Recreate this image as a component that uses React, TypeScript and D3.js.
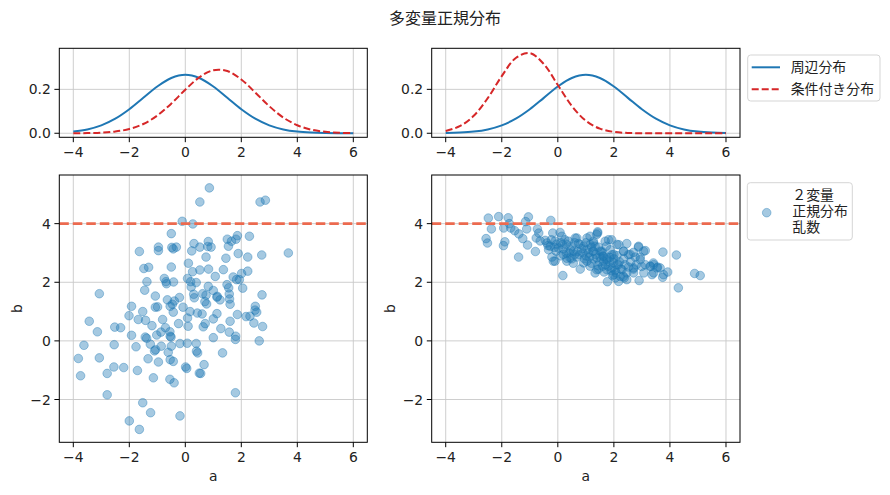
import * as d3 from "d3";

// ---- data ----
const curveX = [-4, -3.5, -3, -2.5, -2, -1.5, -1, -0.5, 0, 0.5, 1, 1.5, 2, 2.5, 3, 3.5, 4, 4.5, 5, 5.5, 6];

const marginalLeft = [0.0076, 0.0175, 0.036, 0.0663, 0.1093, 0.1613, 0.213, 0.2516, 0.266, 0.2516, 0.213, 0.1613, 0.1093, 0.0663, 0.036, 0.0175, 0.0076, 0.003, 0.001, 0.0003, 0.0001];
const conditionalLeft = [0.0002, 0.0008, 0.0027, 0.0078, 0.0194, 0.0422, 0.0807, 0.1351, 0.1983, 0.2549, 0.2871, 0.2834, 0.245, 0.1856, 0.1232, 0.0716, 0.0365, 0.0163, 0.0064, 0.0022, 0.0007];
const marginalRight = [0.001, 0.003, 0.0076, 0.0175, 0.036, 0.0663, 0.1093, 0.1613, 0.213, 0.2516, 0.266, 0.2516, 0.213, 0.1613, 0.1093, 0.0663, 0.036, 0.0175, 0.0076, 0.003, 0.001];
const conditionalRight = [0.0105, 0.0321, 0.0796, 0.1601, 0.2605, 0.343, 0.3654, 0.3151, 0.2199, 0.1242, 0.0568, 0.021, 0.0063, 0.0015, 0.0003, 0, 0, 0, 0, 0, 0];

const leftA = [0.86, 0.52, 2.67, 2.86, -0.11, 0.27, -0.5, -1.64, -0.96, -0.96, -0.48, -0.32, -0.43, 0.31, 0.23, 0.52, 0.8, 0.82, 0.92, 0.74, 1.5, 1.65, 1.86, 1.81, 2.29, 1.54, 1.89, 2.23, 2.73, 3.68, 0.11, -1.48, -1.31, -0.5, 0.52, 0.83, 1.36, 0.26, 1.45, 1.07, 2.01, 2.23, 1.71, 1.83, 1.93, -1.37, -0.75, -0.69, -0.67, -0.42, 0.08, 0.19, 0.21, 0.39, 2.05, 1.49, 1.55, -1.45, -3.07, -1.07, -0.64, -0.39, -0.21, 0.3, 0.32, 0.62, 0.74, 0.82, 1.0, 1.14, 1.13, 1.24, 1.57, 1.58, 1.6, 2.74, 0.7, 0.76, -1.92, -1.07, -0.99, -0.54, -0.46, -0.08, -1.52, -0.43, 0.17, 0.43, 0.6, 1.13, 1.86, 2.17, 2.31, 2.49, 2.5, 2.55, -2.01, -1.68, -1.42, -0.81, -3.43, 0.08, 1.0, -0.24, 0.1, 0.64, 0.71, 1.27, 1.6, 2.45, 2.76, -2.52, -2.31, -1.19, -0.71, -3.14, -1.92, -1.43, -1.38, -1.02, -0.87, -0.55, -0.54, -0.51, 1.0, 1.57, 1.8, 1.79, 2.64, -3.62, -2.54, -1.76, -1.25, -1.06, -1.1, -0.86, -0.5, -0.19, 0.07, 0.39, 0.4, 0.44, -0.61, -0.54, -0.43, 1.33, -3.82, -3.07, -1.33, -0.96, -2.55, -2.2, 0.01, 0.05, 0.67, 0.5, 0.55, -3.74, -2.79, -1.71, -1.14, -0.55, -0.4, -2.79, 1.79, -1.52, -1.24, -2.0, -0.19, -1.64];
const leftB = [5.22, 4.74, 4.74, 4.8, 4.08, 3.99, 3.66, 3.05, 3.2, 3.08, 3.19, 3.2, 3.14, 3.32, 3.07, 3.2, 3.22, 3.39, 3.2, 2.86, 3.47, 3.4, 3.59, 3.47, 3.57, 3.23, 2.98, 2.86, 2.93, 3.0, 2.65, 2.47, 2.51, 2.52, 2.42, 2.45, 2.43, 2.36, 2.82, 2.2, 2.3, 2.38, 2.18, 2.09, 2.09, 2.02, 2.13, 2.02, 1.95, 2.01, 2.13, 2.02, 1.84, 1.99, 1.8, 1.92, 1.81, 1.73, 1.61, 1.53, 1.4, 1.36, 1.48, 1.59, 1.47, 1.61, 1.56, 1.86, 1.72, 1.52, 1.49, 1.4, 1.6, 1.43, 1.25, 1.57, 1.34, 1.26, 1.18, 1.15, 1.16, 1.18, 1.25, 1.15, 1.0, 0.98, 1.0, 0.95, 0.92, 0.93, 0.9, 0.83, 0.84, 1.05, 1.18, 0.98, 0.86, 0.73, 0.7, 0.73, 0.67, 0.78, 0.75, 0.59, 0.5, 0.48, 0.59, 0.42, 0.67, 0.61, 0.49, 0.47, 0.45, 0.52, 0.45, 0.31, 0.19, 0.13, 0.09, 0.2, 0.3, 0.31, 0.16, 0.13, 0.11, 0.3, 0.16, 0.05, 0.0, -0.15, -0.13, -0.2, -0.11, -0.3, -0.34, -0.18, -0.18, -0.09, -0.08, -0.09, -0.35, -0.41, -0.39, -0.64, -0.7, -0.41, -0.6, -0.58, -0.61, -0.72, -0.89, -0.91, -0.89, -0.94, -0.81, -1.1, -1.11, -1.19, -1.11, -1.01, -1.26, -1.31, -1.43, -1.84, -1.77, -2.11, -2.45, -2.73, -2.56, -3.02];

const rightA = [-2.48, -2.11, -1.77, -1.05, -1.15, -0.25, -2.37, -1.93, -1.73, -1.68, -1.54, -1.39, -1.25, -1.11, -1.08, -2.56, -2.51, -1.89, -1.94, -1.4, -0.8, -0.73, -0.68, -0.77, -0.63, -0.45, -0.39, -0.27, -0.18, -0.23, -0.12, -0.33, -0.06, -0.21, -0.1, 0.08, 0.14, 0.18, 0.2, 0.32, 0.18, 0.38, 0.5, 0.62, 0.74, 0.92, 1.04, 0.8, 0.68, 0.5, 1.15, 1.42, 1.27, 1.25, 1.13, 1.04, 1.39, 1.33, 1.51, 1.57, 1.69, 1.81, 1.92, 1.73, 1.87, 1.93, 1.75, 1.63, 1.75, 1.77, 1.95, 2.05, 2.11, 1.99, 2.17, 2.23, 2.37, 2.18, 2.46, 2.35, 2.52, 2.35, 2.7, 2.88, 2.76, 2.94, 3.12, 2.7, 2.52, 2.99, 2.9, 3.07, 3.3, 3.42, 3.56, 3.74, 3.92, 3.65, 3.42, 3.75, 4.23, 4.3, 4.88, 5.08, 1.79, 1.43, 0.92, 0.77, 0.56, 1.27, 1.57, 1.45, 2.11, 2.29, 2.46, 2.08, 1.93, 1.61, -0.1, 0.02, 0.2, -0.16, 0.32, 0.44, 0.68, 0.8, 1.04, 1.15, 1.27, 1.39, 1.39, 1.42, 1.27, 1.33, 1.51, 1.63, 1.75, 2.11, 2.16, 2.34, 2.58, 2.7, 2.88, 3.06, 2.94, 3.12, 3.3, 3.41, 3.54, 3.77, 2.46, 3.36, 2.34, 1.99, 2.7, 0.3, 0.6, 0.9, -0.35, 0.1, 1.0, 1.2, 2.0, 1.7, 0.3, 0.45, 0.6, 0.85, 1.0, 1.1, 1.2, 0.4, 0.7, 0.95, 1.35, 1.5, 1.6, 1.85, 2.0, 2.2, 2.25, 1.9, 1.65, 2.4, 2.6, 2.8, 0.1, -0.05, 0.25, 0.55, 1.15, 1.45, 2.05, 1.85];
const rightB = [4.19, 4.24, 4.2, 4.23, 4.07, 4.11, 3.82, 3.85, 4.0, 3.85, 3.76, 3.65, 3.49, 3.82, 3.27, 3.49, 3.34, 3.38, 3.25, 2.86, 3.05, 3.82, 3.68, 3.51, 3.41, 3.43, 3.34, 3.23, 3.68, 3.45, 3.19, 3.11, 3.06, 2.86, 2.72, 3.7, 3.57, 3.28, 3.14, 2.82, 2.23, 3.4, 3.23, 3.51, 3.32, 3.23, 3.11, 2.45, 2.86, 2.8, 3.57, 3.68, 3.34, 3.06, 2.86, 2.72, 2.43, 2.32, 2.86, 3.06, 3.4, 3.45, 3.45, 3.23, 3.11, 2.94, 2.83, 2.72, 2.43, 2.02, 2.23, 2.41, 2.6, 2.66, 2.03, 2.2, 2.15, 3.28, 3.32, 3.06, 2.94, 2.8, 3.02, 3.2, 2.86, 2.86, 3.08, 2.45, 2.52, 2.54, 2.06, 2.32, 2.54, 2.6, 2.52, 2.17, 2.35, 2.49, 2.32, 3.03, 2.93, 1.81, 2.3, 2.23, 2.55, 2.57, 2.66, 2.94, 3.06, 2.8, 3.02, 3.2, 2.91, 2.43, 2.32, 2.32, 2.49, 2.89, 3.4, 3.17, 2.95, 2.72, 2.72, 2.83, 3.51, 3.29, 3.51, 3.29, 3.06, 3.63, 2.83, 3.72, 3.4, 3.23, 3.06, 2.89, 2.77, 3.29, 2.6, 3.06, 2.95, 2.49, 3.23, 3.06, 2.77, 2.6, 2.55, 2.66, 2.49, 2.26, 2.09, 2.26, 2.2, 2.26, 2.32, 3.0, 2.95, 3.0, 3.25, 2.9, 2.9, 2.65, 2.8, 2.6, 3.3, 3.1, 3.35, 3.15, 3.35, 3.0, 3.2, 3.0, 3.05, 2.8, 2.95, 2.7, 2.55, 2.7, 2.95, 2.7, 2.45, 2.4, 2.35, 2.6, 2.7, 2.6, 3.35, 3.3, 3.45, 2.65, 2.55, 2.45, 2.15, 2.85];

const threshold = 4;
const xTicks = [-4, -2, 0, 2, 4, 6];
const densityTicks = [0, 0.2];
const bTicks = [-2, 0, 2, 4];

const title = "多変量正規分布";
const legendLines = ["周辺分布", "条件付き分布"];
const legendScatter = ["２変量", "正規分布", "乱数"];

// ---- layout ----
const W = 890;
const H = 495;
const cols = [
  { left: 59.3, right: 367.3 },
  { left: 431.7, right: 740 },
];
const topRow = { top: 48.3, bottom: 137.3 };
const bottomRow = { top: 175, bottom: 442.3 };

const blue = "#1f77b4";
const red = "#d62728";
const lineRed = "#ec6a4f";
const numFont = "DejaVu Sans, sans-serif";
const jpFont = "'Noto Sans CJK JP', sans-serif";

const fmtX = d3.format("d");
const fmtD = d3.format(".1f");

function Panel({ col, row, yDomain, yTicks, yFmt, xLabel, yLabel, children }) {
  const x = d3.scaleLinear().domain([-4.5, 6.5]).range([col.left, col.right]);
  const y = d3.scaleLinear().domain(yDomain).range([row.bottom, row.top]);
  return (
    <g>
      {/* grid */}
      {xTicks.map((t) => (
        <line key={"gx" + t} x1={x(t)} x2={x(t)} y1={row.top} y2={row.bottom} stroke="#c8c8c8" strokeWidth={0.9} />
      ))}
      {yTicks.map((t) => (
        <line key={"gy" + t} x1={col.left} x2={col.right} y1={y(t)} y2={y(t)} stroke="#c8c8c8" strokeWidth={0.9} />
      ))}
      {children(x, y)}
      {/* ticks */}
      {xTicks.map((t) => (
        <g key={"tx" + t}>
          <line x1={x(t)} x2={x(t)} y1={row.bottom} y2={row.bottom + 4.9} stroke="#000" strokeWidth={1} />
          <text x={x(t)} y={row.bottom + 20} textAnchor="middle" fontFamily={numFont} fontSize={13.9} fill="#222">
            {fmtX(t)}
          </text>
        </g>
      ))}
      {yTicks.map((t) => (
        <g key={"ty" + t}>
          <line x1={col.left - 4.9} x2={col.left} y1={y(t)} y2={y(t)} stroke="#000" strokeWidth={1} />
          <text x={col.left - 8.5} y={y(t) + 5} textAnchor="end" fontFamily={numFont} fontSize={13.9} fill="#222">
            {yFmt(t)}
          </text>
        </g>
      ))}
      <rect x={col.left} y={row.top} width={col.right - col.left} height={row.bottom - row.top} fill="none" stroke="#000" strokeWidth={1} />
      {xLabel && (
        <text x={(col.left + col.right) / 2} y={row.bottom + 39} textAnchor="middle" fontFamily={numFont} fontSize={13.9} fill="#222">
          {xLabel}
        </text>
      )}
      {yLabel && (
        <text
          transform={`translate(${col.left - 37},${(row.top + row.bottom) / 2}) rotate(-90)`}
          textAnchor="middle"
          fontFamily={numFont}
          fontSize={13.9}
          fill="#222"
        >
          {yLabel}
        </text>
      )}
    </g>
  );
}

function densityPanel(marginal, conditional) {
  return (x, y) => {
    const line = d3
      .line<number>()
      .x((_, i) => x(curveX[i]))
      .y((d) => y(d))
      .curve(d3.curveCatmullRom);
    return (
      <g>
        <path d={line(marginal) || ""} fill="none" stroke={blue} strokeWidth={2} />
        <path d={line(conditional) || ""} fill="none" stroke={red} strokeWidth={2} strokeDasharray="7,3" />
      </g>
    );
  };
}

function scatterPanel(as, bs) {
  return (x, y) => (
    <g>
      {as.map((a, i) => (
        <circle
          key={i}
          cx={x(a)}
          cy={y(bs[i])}
          r={4.3}
          fill={blue}
          fillOpacity={0.4}
          stroke={blue}
          strokeOpacity={0.4}
          strokeWidth={1}
        />
      ))}
      <line
        x1={x.range()[0]}
        x2={x.range()[1]}
        y1={y(threshold)}
        y2={y(threshold)}
        stroke={lineRed}
        strokeWidth={2.8}
        strokeDasharray="9.5,4"
      />
    </g>
  );
}

export default function App() {
  const dDomain = [-0.0184, 0.387];
  const bDomain = [-3.46, 5.66];
  return (
    <svg width={W} height={H} style={{ position: "absolute", left: 0, top: 0, background: "#fff" }}>
      <rect width={W} height={H} fill="#fff" />
      <text x={445} y={24} textAnchor="middle" fontFamily={jpFont} fontSize={16} fill="#222">
        {title}
      </text>

      <Panel col={cols[0]} row={topRow} yDomain={dDomain} yTicks={densityTicks} yFmt={fmtD}>
        {densityPanel(marginalLeft, conditionalLeft)}
      </Panel>
      <Panel col={cols[1]} row={topRow} yDomain={dDomain} yTicks={densityTicks} yFmt={fmtD}>
        {densityPanel(marginalRight, conditionalRight)}
      </Panel>
      <Panel col={cols[0]} row={bottomRow} yDomain={bDomain} yTicks={bTicks} yFmt={fmtX} xLabel="a" yLabel="b">
        {scatterPanel(leftA, leftB)}
      </Panel>
      <Panel col={cols[1]} row={bottomRow} yDomain={bDomain} yTicks={bTicks} yFmt={fmtX} xLabel="a" yLabel="b">
        {scatterPanel(rightA, rightB)}
      </Panel>

      {/* legend: curves */}
      <g>
        <rect x={747.7} y={55} width={132.3} height={46} rx={3} fill="#fff" fillOpacity={0.8} stroke="#d5d5d5" />
        <line x1={751.7} x2={780} y1={67.3} y2={67.3} stroke={blue} strokeWidth={2} />
        <line x1={751.7} x2={780} y1={89.3} y2={89.3} stroke={red} strokeWidth={2} strokeDasharray="7,3" />
        {legendLines.map((t, i) => (
          <text key={t} x={790.7} y={67.3 + i * 22 + 5} fontFamily={jpFont} fontSize={13.9} fill="#222">
            {t}
          </text>
        ))}
      </g>

      {/* legend: scatter */}
      <g>
        <rect x={747.3} y={182.7} width={105} height={57.3} rx={3} fill="#fff" fillOpacity={0.8} stroke="#d5d5d5" />
        <circle cx={766.7} cy={212.7} r={4.3} fill={blue} fillOpacity={0.4} stroke={blue} strokeOpacity={0.4} />
        {legendScatter.map((t, i) => (
          <text key={t} x={792.3} y={195 + i * 16.2 + 5} fontFamily={jpFont} fontSize={13.9} fill="#222">
            {t}
          </text>
        ))}
      </g>
    </svg>
  );
}
